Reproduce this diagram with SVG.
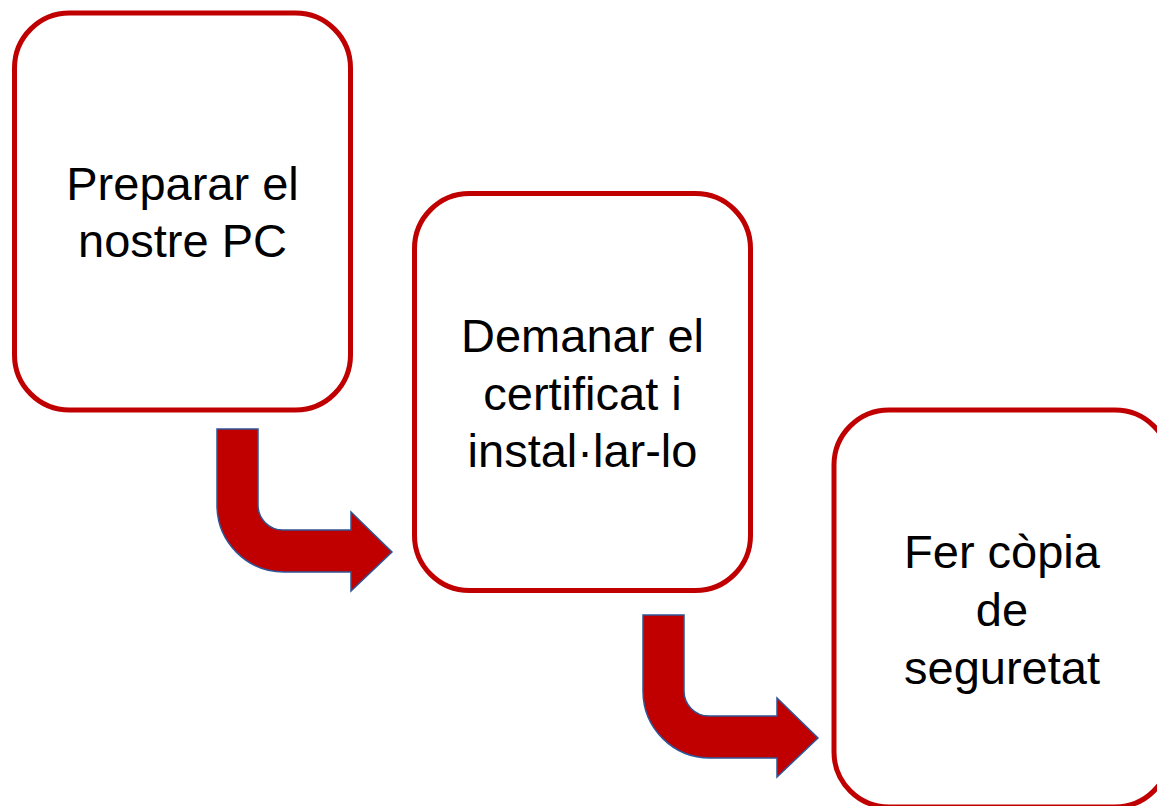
<svg xmlns="http://www.w3.org/2000/svg" width="1157" height="806" viewBox="0 0 1157 806">
<style>
.box{fill:#fff;stroke:#c00000;stroke-width:5}
.lbl{font-family:"Liberation Sans",Arial,sans-serif;font-size:47px;fill:#000;text-anchor:middle}
.arr{fill:#c00000;stroke:#2f5597;stroke-width:1.5;stroke-linejoin:miter}
</style>
<defs>
<path id="bent" d="M217,429 L258,429 L258,505 A25,25 0 0 0 283,530 L351,530 L351,512 L392,552 L351,591 L351,572 L284,572 A67,67 0 0 1 217,505 Z"/>
</defs>
<rect width="1157" height="806" fill="#fff"/>
<g id="connectors">
<use href="#bent" class="arr"/>
<use href="#bent" class="arr" transform="translate(426,186)"/>
</g>
<g id="n1">
<rect class="box" x="14.5" y="13" width="336" height="397" rx="55" ry="55"/>
<text class="lbl" x="182.5" y="200">Preparar el</text>
<text class="lbl" x="182.5" y="257">nostre PC</text>
</g>
<g id="n2">
<rect class="box" x="414.5" y="193.5" width="336" height="397" rx="55" ry="55"/>
<text class="lbl" x="582.5" y="352">Demanar el</text>
<text class="lbl" x="582.5" y="410">certificat i</text>
<text class="lbl" x="582.5" y="467">instal·lar-lo</text>
</g>
<g id="n3">
<rect class="box" x="834" y="410" width="336" height="397" rx="55" ry="55"/>
<text class="lbl" x="1002" y="568">Fer còpia</text>
<text class="lbl" x="1002" y="626">de</text>
<text class="lbl" x="1002" y="684">seguretat</text>
</g>
</svg>
